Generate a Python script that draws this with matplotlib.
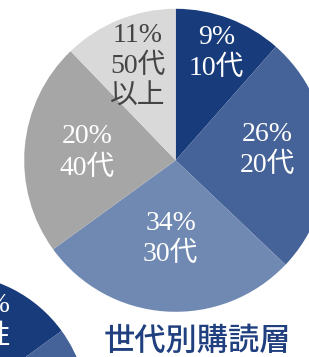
import matplotlib.pyplot as plt
import numpy as np

# age groups of readers
ages = ['10代', '20代', '30代', '40代', '50代\n以上']
pct_labels = ['9%', '26%', '34%', '20%', '11%']
# wedge sizes as drawn in the picture (degrees share, %)
shares = [11.5, 25.6, 27.9, 22.8, 12.2]
colors = ['#183b7b', '#456398', '#7089b2', '#a6a6a6', '#d9d9d9']
text_colors = ['white', 'white', 'white', 'white', '#444444']
label_dist = [0.76, 0.61, 0.52, 0.585, 0.67]
label_turn = [0, -4, 0, 0, 0]   # small angle nudges, degrees

# second (cut off) pie in the lower left corner
sub_shares = [15, 85]
sub_colors = ['#183b7b', '#456398']

fig = plt.figure(figsize=(3.09, 3.57), dpi=100)
W, H = 309, 357

def px_axes(cx, cy, r):
    return fig.add_axes([(cx - r) / W, (H - cy - r) / H, 2 * r / W, 2 * r / H])

fonts = ['Liberation Serif', 'Noto Sans CJK JP']

# sub pie
ax2 = px_axes(-50, 412, 138)
ax2.pie(sub_shares, colors=sub_colors, startangle=90, counterclock=False,
        wedgeprops=dict(linewidth=0))
ax2.set_xlim(-1, 1)
ax2.set_ylim(-1, 1)
ax2.set_aspect('equal')
ax2.axis('off')
ax2.text(0.44, 0.655, '15%\n女性', ha='right', va='center', multialignment='right',
         color='white', fontsize=20, family=fonts, linespacing=1.3)

# main pie
ax = px_axes(175.7, 160.3, 151.5)
wedges, _ = ax.pie(shares, colors=colors, startangle=90, counterclock=False,
                   wedgeprops=dict(linewidth=0))
ax.set_xlim(-1, 1)
ax.set_ylim(-1, 1)
ax.set_aspect('equal')
ax.axis('off')

for w, pct, age, tc, d, t in zip(wedges, pct_labels, ages, text_colors, label_dist, label_turn):
    mid = np.deg2rad((w.theta1 + w.theta2) / 2 - t)
    x, y = d * np.cos(mid), d * np.sin(mid)
    ax.text(x, y, pct + '\n' + age, ha='center', va='center', color=tc,
            fontsize=20, family=fonts, linespacing=1.3)

fig.text(197 / W, 1 - 341 / H, '世代別購読層', ha='center', va='center',
         color='#1f3f7e', fontsize=22.5, family=['Noto Sans CJK JP'], weight='medium')

fig.savefig('out.png', dpi=100)
